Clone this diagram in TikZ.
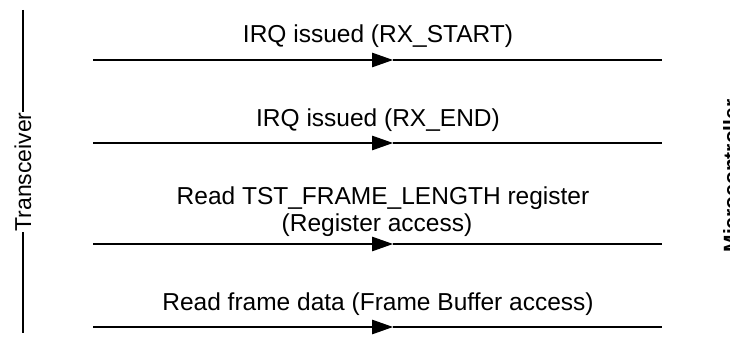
\documentclass[tikz,border=0pt]{standalone}
\usepackage{fontspec}
\setmainfont{Liberation Sans}
\usetikzlibrary{arrows.meta}
\tikzset{msglabel/.style={font=\fontsize{24.5}{27}\selectfont,inner sep=0pt,anchor=base},
  msg/.style={line width=1.2pt,-{Triangle[length=21pt,width=14.5pt]}},
  msgrest/.style={line width=1.2pt},
  lifeline/.style={rotate=90,inner sep=0.5pt,font=\fontsize{23}{25}\selectfont}}

\begin{document}
\begin{tikzpicture}[x=1pt,y=-1pt]
  \useasboundingbox (0,0) rectangle (730,342);

  % lifelines
  \node (trx) [lifeline] at (23,172) {Transceiver};
  \node (mcu) [lifeline,font=\bfseries\fontsize{21}{23}\selectfont,anchor=north,inner sep=0pt] at (723,176) {Microcontroller};
  \coordinate (trxtop) at (trx.east |- 0,10);
  \coordinate (trxbot) at (trx.west |- 0,333);
  \draw[msgrest] (trxtop) -- (trx.east);
  \draw[msgrest] (trx.west) -- (trxbot);

  % messages
  \coordinate (start1) at (93,60);  \coordinate (head1) at (393,60);  \coordinate (end1) at (662,60);
  \coordinate (start2) at (93,143); \coordinate (head2) at (393,143); \coordinate (end2) at (662,143);
  \coordinate (start3) at (93,244); \coordinate (head3) at (393,244); \coordinate (end3) at (662,244);
  \coordinate (start4) at (93,327); \coordinate (head4) at (393,327); \coordinate (end4) at (662,327);

  \node (irqstart) [msglabel] at (378,43)  {IRQ issued (RX\_START)};
  \node (irqend)   [msglabel] at (378,127) {IRQ issued (RX\_END)};
  \node (readlen)  [msglabel] at (383,204) {Read TST\_FRAME\_LENGTH register};
  \node (regacc)   [msglabel] at (377,231) {(Register access)};
  \node (readbuf)  [msglabel] at (378,310) {Read frame data (Frame Buffer access)};

  \path (start1) edge[msg] (head1)  (head1) edge[msgrest] (end1)
        (start2) edge[msg] (head2)  (head2) edge[msgrest] (end2)
        (start3) edge[msg] (head3)  (head3) edge[msgrest] (end3)
        (start4) edge[msg] (head4)  (head4) edge[msgrest] (end4);
\end{tikzpicture}
\end{document}
